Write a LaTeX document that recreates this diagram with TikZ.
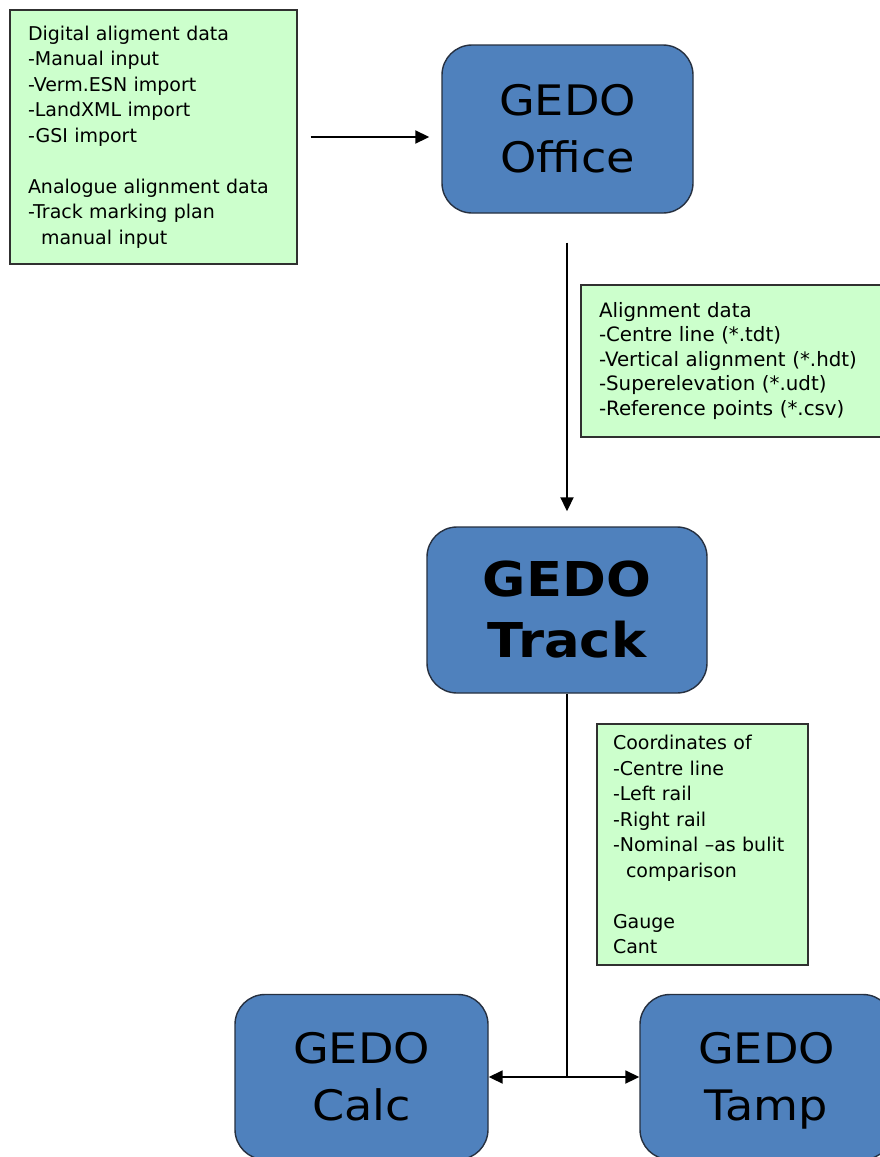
\documentclass[tikz,border=0pt]{standalone}
\usepackage{fontspec}
\setmainfont{DejaVu Sans}
\newfontfamily\bigfont[FakeStretch=1.1]{DejaVu Sans}
\usetikzlibrary{arrows.meta}
\definecolor{boxblue}{HTML}{4F81BD}
\definecolor{boxedge}{HTML}{263040}
\definecolor{noteedge}{HTML}{303030}
\definecolor{notegreen}{HTML}{CCFFCC}
\begin{document}
\begin{tikzpicture}[x=1pt,y=-1pt,
  prog/.style={draw=boxedge, fill=boxblue, line width=1.4pt, rounded corners=30pt,
    align=center, inner sep=0pt, font=\bigfont\fontsize{42}{57}\selectfont},
  note/.style={draw=noteedge, fill=notegreen, line width=1.4pt, align=left,
    inner xsep=18pt, inner ysep=0pt, font=\fontsize{19}{25.5}\selectfont},
  link/.style={line width=1.9pt, -{Triangle[length=14pt,width=13pt]}},
  plain/.style={line width=1.9pt}]
\path[use as bounding box] (0,0) rectangle (880,1157);
\clip (0,0) rectangle (880,1157);
\fill[white] (0,0) rectangle (880,1157);

\node[note, text width=251pt, minimum height=254pt] (n1) at (153.5,137)
  {Digital aligment data\\-Manual input\\-Verm.ESN import\\-LandXML import\\-GSI import\\[25.5pt]
   Analogue alignment data\\-Track marking plan\\\hspace*{13pt}manual input};

\node[prog, minimum width=251pt, minimum height=168pt] (office) at (567.5,129) {GEDO\\Office};

\node[note, text width=273pt, minimum height=152pt, font=\fontsize{19.8}{24.5}\selectfont] (n2) at (735.5,361)
  {Alignment data\\-Centre line (*.tdt)\\-Vertical alignment (*.hdt)\\-Superelevation (*.udt)\\-Reference points (*.csv)};

\node[prog, minimum width=280pt, minimum height=166pt, font=\bigfont\bfseries\fontsize{48}{61}\selectfont] (track) at (567,610) {GEDO\\Track};

\node[note, text width=179pt, inner xsep=16pt, minimum height=241pt] (n3) at (702.5,844.5)
  {Coordinates of\\-Centre line\\-Left rail\\-Right rail\\-Nominal –as bulit\\\hspace*{13pt}comparison\\[25.5pt]
   Gauge\\Cant};

\node[prog, minimum width=253pt, minimum height=165pt] (calc) at (361.5,1077) {GEDO\\Calc};
\node[prog, minimum width=253pt, minimum height=165pt] (tamp) at (766.5,1077) {GEDO\\Tam\smash{p}};

\coordinate (j) at (track.south |- calc.east);

\draw[link, shorten <=13pt, shorten >=12pt] (n1.east) -- (n1.east -| office.west);
\draw[link, shorten <=29pt, shorten >=15pt] (track.north |- office.south) -- (track.north);
\draw[plain] (track.south) -- (j);
\draw[link] (j) -- (calc.east);
\draw[link] (j) -- (tamp.west);
\end{tikzpicture}
\end{document}
